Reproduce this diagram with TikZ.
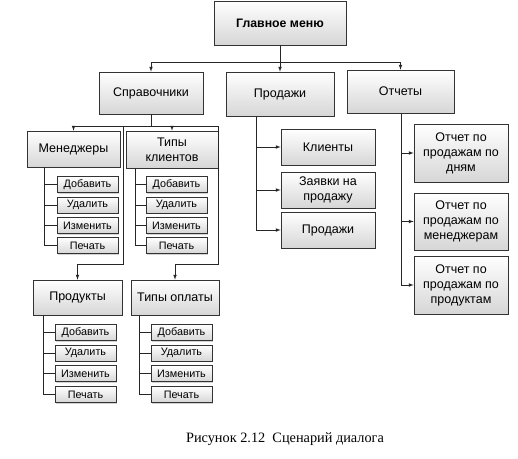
\documentclass[tikz,border=0pt]{standalone}
\usepackage{fontspec}
\setmainfont{Liberation Sans}
\newfontfamily\capfont{Liberation Serif}
\usetikzlibrary{shadows}

\tikzset{
	>=latex,
	menubox/.style={draw=black!80, line width=0.7pt, top color=white, bottom color=black!16,
		drop shadow={shadow xshift=1.2pt, shadow yshift=-1.2pt, opacity=0.35},
		align=center, inner sep=1pt, font=\fontsize{12.5}{15}\selectfont},
	actbox/.style={menubox, minimum width=61pt, minimum height=16pt, font=\fontsize{10.8}{12}\selectfont},
	link/.style={line width=0.7pt, black!85},
}

\begin{document}
\begin{tikzpicture}[x=1pt, y=-1pt]
	\useasboundingbox (0,0) rectangle (518,458);

	% top level
	\node[menubox, minimum width=132pt, minimum height=44pt, font=\bfseries\fontsize{12.3}{14}\selectfont] (main) at (280,23) {Главное меню};
	\node[menubox, minimum width=104pt, minimum height=42pt] (sprav) at (151,93) {Справочники};
	\node[menubox, minimum width=108pt, minimum height=44pt] (prod) at (280,94) {Продажи};
	\node[menubox, minimum width=107pt, minimum height=43pt] (otch) at (400.5,91.5) {Отчеты};

	\draw[link] (main.south) -- ++(0,17) coordinate (bus);
	\draw[link] (bus -| sprav) -- (bus -| otch);
	\draw[link,->] (bus -| sprav) -- (sprav.north);
	\draw[link,->] (bus) -- (prod.north);
	\draw[link,->] (bus -| otch) -- (otch.north);

	% справочники
	\node[menubox, minimum width=93pt, minimum height=36pt] (man) at (73.5,149) {Менеджеры};
	\node[menubox, minimum width=92pt, minimum height=37pt] (tipk) at (172,149.5) {Типы\\клиентов};
	\node[menubox, minimum width=89pt, minimum height=35pt] (prodk) at (77.5,297.5) {Продукты};
	\node[menubox, minimum width=88pt, minimum height=35pt] (tipo) at (175,297.5) {Типы оплаты};

	\draw[link] (sprav.south) -- ++(0,12) coordinate (sbus);
	\draw[link] (sbus -| man) -- (sbus -| tipk.east);
	\draw[link,->] (sbus -| man) -- (man.north);
	\draw[link,->] (sbus -| tipk) -- (tipk.north);
	\draw[link,->] ([xshift=3pt]sbus -| man.east) |- ([yshift=15pt]prodk.north) -- (prodk.north);
	\draw[link,->] (sbus -| tipk.east) |- ([yshift=15pt]tipo.north) -- (tipo.north);

	\foreach \t [count=\i] in {Добавить, Удалить, Изменить, Печать} {
		\node[actbox] (m\i) at (87.5,164.5+20.3*\i) {\t};
		\node[actbox] (k\i) at (176.5,164.5+20.3*\i) {\t};
		\node[actbox] (p\i) at (85.5,312+20.6*\i) {\t};
		\node[actbox] (o\i) at (181.5,312+20.6*\i) {\t};
	}
	\foreach \i in {1,...,4} {
		\draw[link] ([xshift=18pt]man.south west) |- (m\i.west);
		\draw[link] ([xshift=10pt]tipk.south west) |- (k\i.west);
		\draw[link] ([xshift=11pt]prodk.south west) |- (p\i.west);
		\draw[link] ([xshift=9pt]tipo.south west) |- (o\i.west);
	}

	% продажи
	\node[menubox, minimum width=94pt, minimum height=36pt] (kl) at (328,147) {Клиенты};
	\node[menubox, minimum width=94pt, minimum height=36pt] (zv) at (328,190) {Заявки на\\продажу};
	\node[menubox, minimum width=94pt, minimum height=36pt] (pr) at (328,230) {Продажи};
	\foreach \n in {kl, zv, pr}
		\draw[link,->] ([xshift=31pt]prod.south west) |- (\n.west);

	% отчеты
	\node[menubox, minimum width=94pt, minimum height=58pt] (r1) at (461,153) {Отчет по\\продажам по\\дням};
	\node[menubox, minimum width=94pt, minimum height=57pt] (r2) at (461,221.5) {Отчет по\\продажам по\\менеджерам};
	\node[menubox, minimum width=94pt, minimum height=58pt] (r3) at (461,285) {Отчет по\\продажам по\\продуктам};
	\foreach \n in {r1, r2, r3}
		\draw[link,->] ([xshift=55pt]otch.south west) |- (\n.west);

	\node[font=\capfont\fontsize{14.3}{16}\selectfont] (cap) at (285,439) {Рисунок 2.12~~Сценарий диалога};
\end{tikzpicture}
\end{document}
